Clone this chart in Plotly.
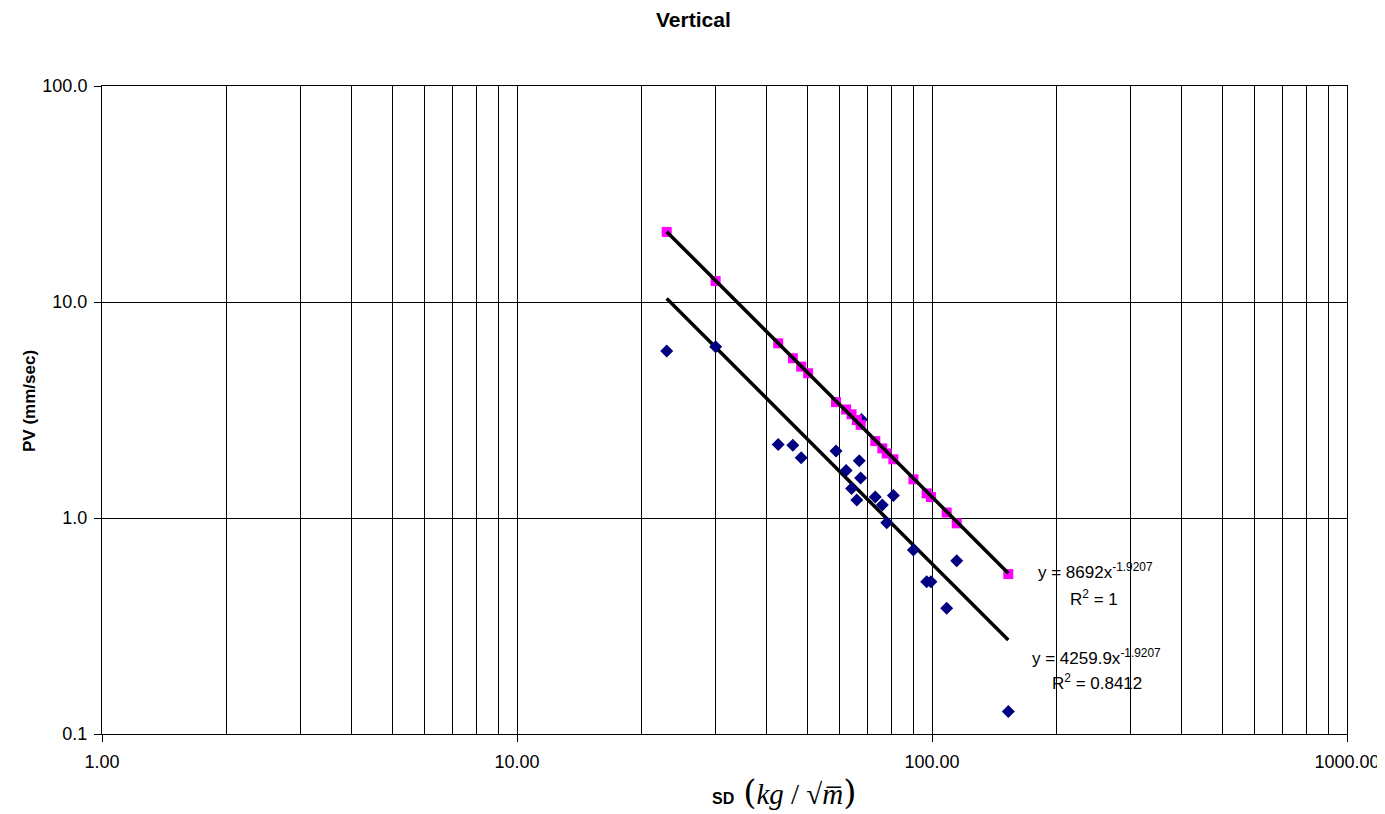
import plotly.graph_objects as go

# scaled distance (kg/sqrt(m)) and peak velocity (mm/sec)
sd_fit = [22.95, 30.1, 42.6, 46.2, 48.4, 50.3, 58.7, 62.1, 64.0, 65.9, 67.3,
          73.0, 75.9, 77.8, 80.7, 90.2, 97.1, 99.4, 108.5, 114.7, 152.7]
pv_fit = [21.1, 12.5, 6.44, 5.49, 5.02, 4.68, 3.44, 3.18, 3.02, 2.84, 2.70,
          2.27, 2.10, 1.99, 1.87, 1.51, 1.30, 1.25, 1.06, 0.945, 0.550]

sd_obs = [22.95, 30.1, 42.6, 46.2, 48.4, 58.7, 62.1, 64.0, 65.9, 66.8, 67.3,
          67.6, 73.0, 75.9, 77.8, 80.7, 90.2, 97.1, 99.4, 108.5, 114.7, 152.7]
pv_obs = [5.93, 6.21, 2.19, 2.17, 1.90, 2.04, 1.66, 1.37, 1.21, 1.84, 1.53,
          2.86, 1.25, 1.15, 0.951, 1.27, 0.711, 0.507, 0.507, 0.382, 0.634, 0.127]

# power-law trendlines as printed on the chart
coef_fit, coef_obs, expo = 8692, 4259.9, -1.9207
trend_x = [22.95, 152.7]

x_major = [1, 10, 100, 1000]
x_major_text = ["1.00", "10.00", "100.00", "1000.00"]
y_major = [0.1, 1, 10, 100]
y_major_text = ["0.1", "1.0", "10.0", "100.0"]
x_minor = [m * 10 ** k for k in range(3) for m in range(2, 10)]

fig = go.Figure()

fig.add_trace(go.Scatter(x=trend_x, y=[coef_obs * v ** expo for v in trend_x],
                         mode='lines', line={'color': 'black', 'width': 3.5},
                         showlegend=False, hoverinfo='skip'))
fig.add_trace(go.Scatter(x=sd_obs, y=pv_obs, mode='markers',
                         marker={'symbol': 'diamond', 'size': 10, 'color': '#000080'},
                         showlegend=False))
fig.add_trace(go.Scatter(x=sd_fit, y=pv_fit, mode='markers',
                         marker={'symbol': 'square', 'size': 10, 'color': '#FF00FF'},
                         showlegend=False))
fig.add_trace(go.Scatter(x=trend_x, y=[coef_fit * v ** expo for v in trend_x],
                         mode='lines', line={'color': 'black', 'width': 3.5},
                         showlegend=False, hoverinfo='skip'))

fig.update_xaxes(type='log', range=[0, 3], automargin=False,
                 tickmode='array', tickvals=x_major, ticktext=x_major_text,
                 showgrid=True, gridcolor='black', gridwidth=1,
                 minor={'tickmode': 'array', 'tickvals': x_minor, 'showgrid': True,
                        'gridcolor': 'black', 'gridwidth': 1, 'ticks': ''},
                 ticks='outside', ticklen=7, tickcolor='black', ticklabelstandoff=4,
                 ticklabeloverflow='allow',
                 showline=True, linecolor='black', mirror=True, zeroline=False,
                 tickfont={'size': 18, 'color': 'black'})
fig.update_yaxes(type='log', range=[-1, 2], automargin=False,
                 tickmode='array', tickvals=y_major, ticktext=y_major_text,
                 showgrid=True, gridcolor='black', gridwidth=1,
                 ticks='outside', ticklen=7, tickcolor='black', ticklabelstandoff=3,
                 showline=True, linecolor='black', mirror=True, zeroline=False,
                 tickfont={'size': 18, 'color': 'black'})

fig.update_layout(
    width=1377, height=806,
    margin=dict(l=94, r=38, t=78, b=80),
    plot_bgcolor='white', paper_bgcolor='white',
    font={'family': 'Liberation Sans, Arial', 'color': 'black'},
)


# pixel-based placement of text in paper coordinates
def px_x(p):
    return (p - 102) / 1245


def px_y(p):
    return (734 - p) / 648


def label(px, py, text, size, **kw):
    fig.add_annotation(x=px_x(px), y=px_y(py), xref='paper', yref='paper',
                       xanchor='center', yanchor='middle', text=text, showarrow=False,
                       font={'size': size, 'color': 'black'}, **kw)


label(693, 19, '<b>Vertical</b>', 21)
label(29, 401, '<b>PV (mm/sec)</b>', 17, textangle=-90)
label(1095, 571, 'y = 8692x<sup>-1.9207</sup>', 17)
label(1094, 598, 'R<sup>2</sup> = 1', 17)
label(1096, 657, 'y = 4259.9x<sup>-1.9207</sup>', 17)
label(1097, 682, 'R<sup>2</sup> = 0.8412', 17)
label(784, 792,
      "<b>SD</b>  <span style='font-family:DejaVu Serif, serif; font-size:34px'>(</span>"
      "<span style='font-family:Liberation Serif, serif; font-size:29px'><i>kg</i> / √<i>m̅</i></span>"
      "<span style='font-family:DejaVu Serif, serif; font-size:34px'>)</span>", 16)

fig.write_html("out.html")
